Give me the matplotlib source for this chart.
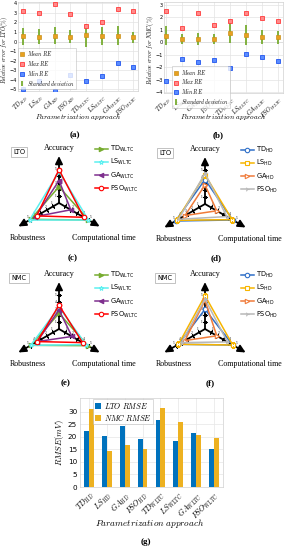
import numpy as np
import matplotlib
matplotlib.use("Agg")
import matplotlib.pyplot as plt
from matplotlib.font_manager import FontProperties

plt.rcParams['mathtext.fontset'] = 'cm'
plt.rcParams['font.family'] = ['DejaVu Sans']

# ---------------- data ----------------
approaches = [r'$TD_{HD}$', r'$LS_{HD}$', r'$GA_{HD}$', r'$PSO_{HD}$',
              r'$TD_{WLTC}$', r'$LS_{WLTC}$', r'$GA_{WLTC}$', r'$PSO_{WLTC}$']

lto_mean = [0.55, 0.5, 0.6, 0.5, 0.65, 0.55, 0.6, 0.45]
lto_max = [3.2, 2.96, 3.96, 2.93, 1.68, 2.0, 3.39, 3.2]
lto_min = [-4.95, -4.1, -5.15, -3.55, -4.1, -3.6, -2.3, -2.65]
lto_std = [0.9, 0.8, 0.9, 0.7, 1.2, 0.95, 1.0, 0.6]

nmc_mean = [0.53, 0.25, 0.27, 0.25, 0.71, 0.56, 0.43, 0.4]
nmc_max = [2.48, 1.13, 2.32, 1.36, 1.7, 2.32, 1.94, 1.65]
nmc_min = [-3.08, -1.36, -1.6, -1.44, -2.06, -0.92, -1.18, -1.47]
nmc_std = [0.78, 0.37, 0.47, 0.4, 0.8, 0.82, 0.57, 0.52]

criteria = ['Accuracy', 'Robustness', 'Computational time']
wltc_names = ['TD', 'LS', 'GA', 'PSO']
hd_names = ['TD', 'LS', 'GA', 'PSO']
lto_wltc = {'TD': [2.4, 4.8, 5.0], 'LS': [4.6, 5.0, 5.0],
            'GA': [3.3, 4.0, 2.0], 'PSO': [4.9, 3.8, 4.2]}
lto_hd = {'TD': [3.6, 5.0, 4.7], 'LS': [4.3, 4.8, 4.6],
          'GA': [2.8, 3.4, 2.0], 'PSO': [4.5, 4.5, 3.7]}
nmc_wltc = {'TD': [2.3, 4.8, 4.9], 'LS': [3.2, 4.8, 4.6],
            'GA': [2.8, 3.7, 2.2], 'PSO': [3.5, 3.7, 4.0]}
nmc_hd = {'TD': [2.9, 4.5, 4.7], 'LS': [4.9, 4.5, 4.7],
          'GA': [4.2, 3.4, 2.0], 'PSO': [4.4, 4.0, 3.8]}

rmse_lto = [22.2, 20.2, 24.2, 19.0, 26.8, 18.5, 21.4, 15.1]
rmse_nmc = [31.2, 14.5, 16.9, 15.3, 31.6, 26.1, 20.8, 19.6]

# ---------------- helpers ----------------
W, H = 290, 550
fig = plt.figure(figsize=(W / 100, H / 100), dpi=100)


def add_ax(l, t, r, b, **kw):
    return fig.add_axes([l / W, 1 - b / H, (r - l) / W, (b - t) / H], **kw)


def ftext(x, y, s, **kw):
    fig.text(x / W, 1 - y / H, s, **kw)


serif = 'Liberation Serif'


def error_panel(l, t, r, b, mean, mx, mn, sd, ylim, yticks, ylabel, xlim, leg_box,
                ylab_xy, xlab_xy):
    ax = add_ax(l, t, r, b)
    x = np.arange(1, len(approaches) + 1)
    ax.grid(True, color='#e3e3e3', lw=0.5)
    ax.set_axisbelow(True)
    ax.axhline(0, color='#cfcfcf', lw=0.6, zorder=0.5)
    h_std = ax.errorbar(x, mean, yerr=sd, fmt='none', ecolor='#77AC30',
                        elinewidth=1.3, capsize=0, zorder=2)
    h_mean, = ax.plot(x, mean, 's', ms=3.2, mfc='#E8A020', mec='#C8901A', mew=0.5, zorder=3)
    h_max, = ax.plot(x, mx, 's', ms=3.2, mfc='#FF8A8A', mec='#FF3B3B', mew=0.6, zorder=3)
    h_min, = ax.plot(x, mn, 's', ms=3.2, mfc='#5A8CFF', mec='#2255EE', mew=0.6, zorder=3)
    ax.set_xlim(*xlim)
    ax.set_ylim(*ylim)
    ax.set_yticks(yticks)
    ax.set_xticks(x)
    ax.set_xticklabels(approaches, rotation=45, ha='right', va='top',
                       rotation_mode='anchor', fontsize=4.4)
    ax.tick_params(axis='y', labelsize=3.6, length=0, pad=0.8)
    ax.tick_params(axis='x', length=0, pad=1.5)
    for s in ax.spines.values():
        s.set_color('#d0d0d0')
        s.set_linewidth(0.5)
    ax.set_ylabel(ylabel, fontsize=4.0)
    ax.set_xlabel(r'$Parametrization\ approach$', fontsize=5.2)
    ax.yaxis.set_label_coords((ylab_xy[0] - l) / (r - l), (b - ylab_xy[1]) / (b - t))
    ax.xaxis.set_label_coords((xlab_xy[0] - l) / (r - l), (b - xlab_xy[1]) / (b - t))
    ax.yaxis.label.set_va('center')
    ax.xaxis.label.set_va('center')
    bl, bt, br, bb = leg_box
    leg = ax.legend([h_mean, h_max, h_min, h_std],
                    [r'$Mean\ RE$', r'$Max\ RE$', r'$Min\ RE$', r'$Standard\ deviation$'],
                    loc='upper left', bbox_to_anchor=(bl / W, 1 - bt / H),
                    bbox_transform=fig.transFigure, fontsize=3.9, frameon=True,
                    fancybox=False, borderpad=0.3, labelspacing=0.15,
                    handlelength=0.9, handletextpad=0.4, borderaxespad=0)
    leg.get_frame().set_edgecolor('#b0b0b0')
    leg.get_frame().set_linewidth(0.4)
    return ax


error_panel(18, 2, 138, 91, lto_mean, lto_max, lto_min, lto_std,
            (-5.2, 4.15), np.arange(-5, 5, 1), r'$Relative\ error\ for\ LTO(\%)$',
            (0.66, 8.3), (18, 47.5, 74, 73), (4.8, 50), (78, 117))
ftext(75, 135, '(a)', fontsize=6.5, fontweight='bold', family=serif, ha='center', va='center')

error_panel(164, 2, 283, 93, nmc_mean, nmc_max, nmc_min, nmc_std,
            (-4.05, 3.2), np.arange(-4, 4, 1), r'$Relative\ error\ for\ NMC(\%)$',
            (0.85, 8.33), (172, 66, 224, 91), (151, 50), (223, 117))
ftext(218, 135, '(b)', fontsize=6.5, fontweight='bold', family=serif, ha='center', va='center')

# ---------------- radar panels ----------------
theta = np.deg2rad([90, 210, 330])
PX_PER_UNIT = 6.8
RMAX = 7.2

wltc_styles = {
    'TD': dict(color='#77AC30', marker='>', mfc='#77AC30'),
    'LS': dict(color='#5CF0F0', marker='*', mfc='white'),
    'GA': dict(color='#7E2F8E', marker='<', mfc='#7E2F8E'),
    'PSO': dict(color='#FF0000', marker='o', mfc='white'),
}
hd_styles = {
    'TD': dict(color='#2F6FC8', marker='o', mfc='white'),
    'LS': dict(color='#F7B500', marker='s', mfc='white'),
    'GA': dict(color='#F07B3A', marker='>', mfc='white'),
    'PSO': dict(color='#B8B8B8', marker='4', mfc='white'),
}
sans_math = FontProperties(family='DejaVu Sans', size=4.8, math_fontfamily='dejavusans')


def radar(cx, cy, data, names, styles, sub, tag):
    rp = RMAX * PX_PER_UNIT
    ax = add_ax(cx - rp, cy - rp, cx + rp, cy + rp, projection='polar')
    ax.set_ylim(0, RMAX)
    ax.set_axis_off()
    for th in theta:
        ax.annotate('', xy=(th, 6.9), xytext=(th, 0),
                    arrowprops=dict(arrowstyle='-|>,head_length=0.45,head_width=0.22',
                                    lw=1.3, color='k', shrinkA=0, shrinkB=0), zorder=1)
        ax.plot([th] * 5, np.arange(1, 6), ls='none', color='k',
                marker=(2, 2, np.rad2deg(th)), ms=3.2, mew=0.8, zorder=1)
    off_dirs = np.deg2rad([180, 120, 60])
    for th, od in zip(theta, off_dirs):
        for k in range(1, 6):
            ax.annotate(str(k), xy=(th, k), xytext=(2.6 * np.cos(od), 2.6 * np.sin(od)),
                        textcoords='offset points', fontsize=2.6, family=serif,
                        ha='center', va='center', zorder=1)
    handles = []
    for n in names:
        vals = data[n]
        st = styles[n]
        th_c = np.append(theta, theta[0])
        r_c = np.append(vals, vals[0])
        h, = ax.plot(th_c, r_c, color=st['color'], lw=1.1, marker=st['marker'],
                     ms=3.2, mfc=st['mfc'], mec=st['color'], mew=0.8, zorder=3)
        handles.append(h)
    labels = [n + r'$_{\mathsf{' + sub + '}}$' for n in names]
    fig.legend(handles, labels, loc='upper left',
               bbox_to_anchor=((cx + 36) / W, 1 - (cy - 59) / H),
               prop=sans_math, frameon=False, handlelength=1.9,
               handletextpad=0.35, labelspacing=0.45, borderpad=0, borderaxespad=0)
    ftext(cx, cy - 55, 'Accuracy', fontsize=5.8, family=serif, ha='center', va='center')
    ftext(cx - 31, cy + 35, 'Robustness', fontsize=5.8, family=serif, ha='center', va='center')
    ftext(cx + 45, cy + 35, 'Computational time', fontsize=5.8, family=serif,
          ha='center', va='center')
    ftext(cx - 40, cy - 51, tag, fontsize=4.8, ha='center', va='center',
          bbox=dict(boxstyle='square,pad=0.35', fc='white', ec='#aaaaaa', lw=0.5))
    return ax


radar(59, 203, lto_wltc, wltc_names, wltc_styles, 'WLTC', 'LTO')
ftext(73, 258, '(c)', fontsize=6.5, fontweight='bold', family=serif, ha='center', va='center')
radar(205, 204, lto_hd, hd_names, hd_styles, 'HD', 'LTO')
ftext(216, 258, '(d)', fontsize=6.5, fontweight='bold', family=serif, ha='center', va='center')
radar(59, 329, nmc_wltc, wltc_names, wltc_styles, 'WLTC', 'NMC')
ftext(66, 383, '(e)', fontsize=6.5, fontweight='bold', family=serif, ha='center', va='center')
radar(205, 329, nmc_hd, hd_names, hd_styles, 'HD', 'NMC')
ftext(210, 383, '(f)', fontsize=6.5, fontweight='bold', family=serif, ha='center', va='center')

# ---------------- bar panel ----------------
gl, gt, gr, gb = 80, 398, 223, 487
axg = add_ax(gl, gt, gr, gb)
x = np.arange(len(approaches))
bw = 0.27
axg.grid(True, color='#e6e6e6', lw=0.5)
axg.set_axisbelow(True)
axg.bar(x - bw / 2, rmse_lto, bw, color='#0072BD', label=r'$LTO\ RMSE$')
axg.bar(x + bw / 2, rmse_nmc, bw, color='#EDB120', label=r'$NMC\ RMSE$')
axg.set_xlim(-0.5, len(approaches) - 0.5)
axg.set_ylim(0, 35.5)
axg.set_yticks(np.arange(0, 35, 5))
axg.set_xticks(x)
axg.set_xticklabels(approaches, rotation=45, ha='right', va='top',
                    rotation_mode='anchor', fontsize=5.6)
axg.tick_params(axis='y', labelsize=5.2, length=0, pad=2)
axg.tick_params(axis='x', length=0, pad=2)
for s in axg.spines.values():
    s.set_color('#d0d0d0')
    s.set_linewidth(0.5)
axg.set_ylabel(r'$RMSE(mV)$', fontsize=6.2)
axg.set_xlabel(r'$Parametrization\ approach$', fontsize=6.6)
axg.yaxis.set_label_coords((60 - gl) / (gr - gl), (gb - 443) / (gb - gt))
axg.xaxis.set_label_coords((150 - gl) / (gr - gl), (gb - 524) / (gb - gt))
axg.yaxis.label.set_va('center')
axg.xaxis.label.set_va('center')
lg = axg.legend(loc='upper left', bbox_to_anchor=(93 / W, 1 - 399 / H),
                bbox_transform=fig.transFigure, fontsize=5.6, frameon=True, fancybox=False,
                borderpad=0.2, labelspacing=0.15, handlelength=0.8, handletextpad=0.4,
                borderaxespad=0)
lg.get_frame().set_edgecolor('#b0b0b0')
lg.get_frame().set_linewidth(0.4)
ftext(146, 542, '(g)', fontsize=6.5, fontweight='bold', family=serif, ha='center', va='center')

fig.savefig('out.png', dpi=100, facecolor='white')
